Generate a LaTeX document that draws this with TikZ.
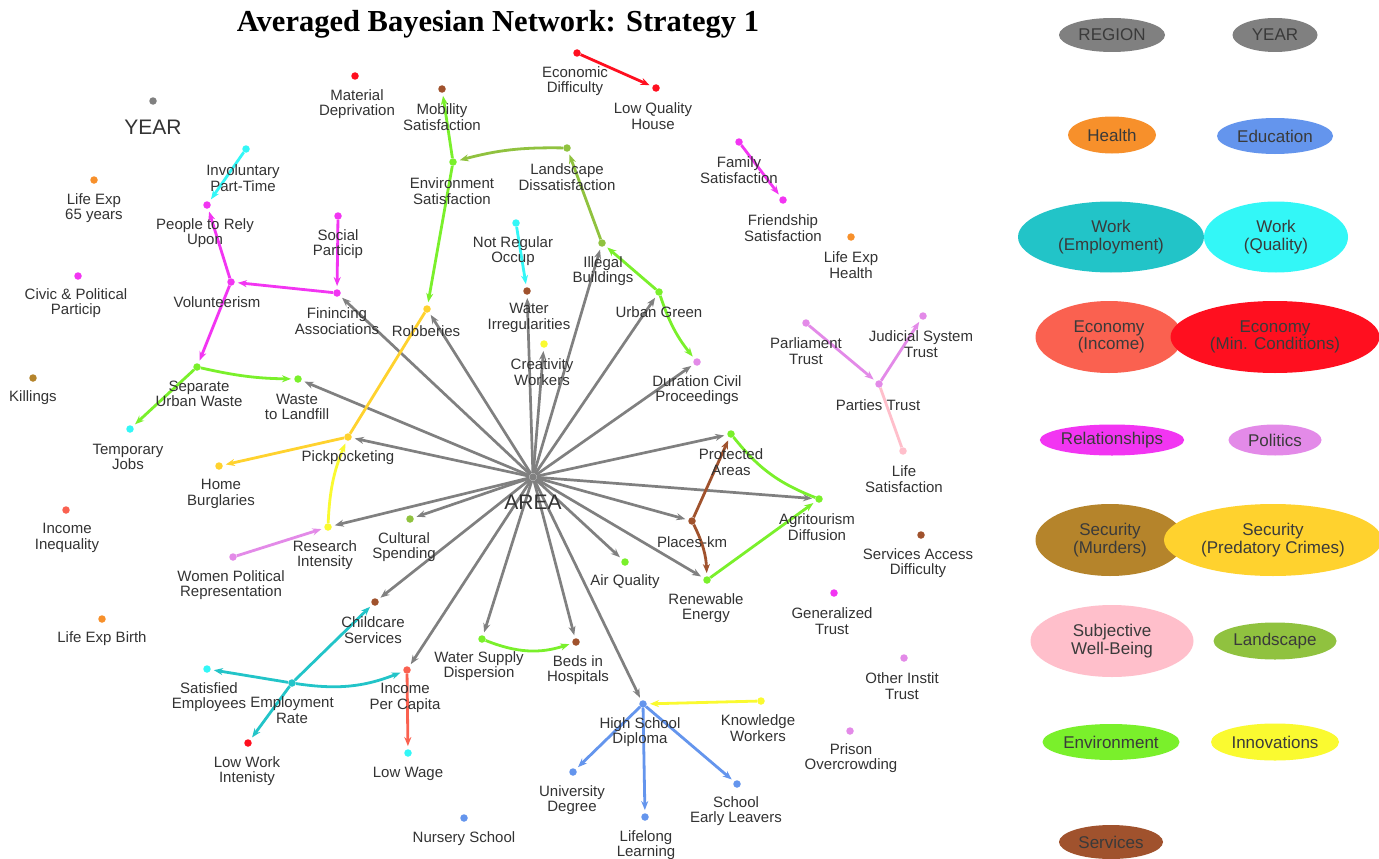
\documentclass[tikz,border=0pt]{standalone}
\usepackage{fontspec}
\setmainfont{Liberation Sans}
\newfontfamily\titlefont{Liberation Serif}
\usetikzlibrary{arrows.meta,shapes.geometric}
\definecolor{cgray}{HTML}{808080}
\definecolor{cmag}{HTML}{F235F2}
\definecolor{ccyan}{HTML}{33F7F7}
\definecolor{cteal}{HTML}{22C4C8}
\definecolor{cgreen}{HTML}{7AF02B}
\definecolor{colive}{HTML}{90C23F}
\definecolor{cred}{HTML}{FF0F1F}
\definecolor{ctom}{HTML}{FA6150}
\definecolor{cgold}{HTML}{FFD22E}
\definecolor{cyel}{HTML}{FAFA30}
\definecolor{cviol}{HTML}{E38AE8}
\definecolor{cpink}{HTML}{FFBFCB}
\definecolor{cblue}{HTML}{6495ED}
\definecolor{corange}{HTML}{F7902B}
\definecolor{cmurd}{HTML}{B5842B}
\definecolor{cserv}{HTML}{A0522D}
\definecolor{labc}{HTML}{333333}
\definecolor{legtext}{HTML}{3A3A3A}
\begin{document}
\begin{tikzpicture}[x=1pt,y=-1pt,
  dot/.style={circle,inner sep=0pt,minimum size=7.5pt,draw=none},
  lab/.style={align=center,font=\fontsize{15}{15.5}\selectfont,text=labc,inner sep=0pt},
  big/.style={font=\fontsize{21}{21}\selectfont},
  e/.style={line width=2.8pt,-{Stealth[length=9pt,width=7pt]},shorten >=3pt},
  ne/.style={line width=2.8pt},
  leg/.style={ellipse,inner sep=0pt,align=center,font=\fontsize{17}{17.5}\selectfont,text=legtext,draw=none}]
\useasboundingbox (0,0) rectangle (1379,859);
\fill[white] (0,0) rectangle (1379,859);

% title
\node[font=\titlefont\bfseries\fontsize{30.5}{30.5}\selectfont,text=black] (title) at (498,24) {Averaged Bayesian Network: Strategy 1};

% ---------- nodes (dots) ----------
\node[dot,fill=cgray] (YEAR) at (153,101) {};
\node[dot,fill=corange] (LE65) at (94,180) {};
\node[dot,fill=cmag] (Civic) at (78,276) {};
\node[dot,fill=cmurd] (Kill) at (33,378) {};
\node[dot,fill=ctom] (Ineq) at (66,510) {};
\node[dot,fill=corange] (LEB) at (102,619) {};
\node[dot,fill=ccyan] (Inv) at (246,149) {};
\node[dot,fill=cmag] (People) at (207,205) {};
\node[dot,fill=cmag] (Vol) at (231,282) {};
\node[dot,fill=cmag] (Social) at (338,216) {};
\node[dot,fill=cmag] (Fin) at (337,293) {};
\node[dot,fill=cgreen] (Sep) at (197,367) {};
\node[dot,fill=cgreen] (Waste) at (298,379) {};
\node[dot,fill=ccyan] (Temp) at (130,429) {};
\node[dot,fill=cgold] (Home) at (219,466) {};
\node[dot,fill=cgold] (Pick) at (348,437) {};
\node[dot,fill=cyel] (Research) at (328,527) {};
\node[dot,fill=cviol] (Women) at (233,557) {};
\node[dot,fill=colive] (Cult) at (410,519) {};
\node[dot,fill=cserv] (Child) at (375,602) {};
\node[dot,fill=ccyan] (Satis) at (207,669) {};
\node[dot,fill=cteal] (Emp) at (292,683) {};
\node[dot,fill=cred] (LowWork) at (248,743) {};
\node[dot,fill=ctom] (Income) at (407,670) {};
\node[dot,fill=ccyan] (LowWage) at (408,753) {};
\node[dot,fill=cgreen] (WSD) at (482,639) {};
\node[dot,fill=cserv] (Beds) at (576,642) {};
\node[dot,fill=cblue] (Nurs) at (464,818) {};
\node[dot,fill=cblue] (HSD) at (643,704) {};
\node[dot,fill=cblue] (Univ) at (573,772) {};
\node[dot,fill=cblue] (LLL) at (645,817) {};
\node[dot,fill=cblue] (SEL) at (737,784) {};
\node[dot,fill=cyel] (Know) at (761,701) {};
\node[dot,fill=cviol] (Prison) at (850,731) {};
\node[dot,fill=cviol] (Other) at (904,658) {};
\node[dot,fill=cmag] (Gen) at (834,593) {};
\node[dot,fill=cgreen] (Renew) at (707,580) {};
\node[dot,fill=cgreen] (Air) at (625,562) {};
\node[dot,fill=cserv] (Places) at (692,521) {};
\node[dot,fill=cgreen] (Agri) at (819,499) {};
\node[dot,fill=cserv] (ServAcc) at (921,535) {};
\node[dot,fill=cgreen] (Prot) at (731,434) {};
\node[dot,fill=cpink] (LifeSat) at (903,451) {};
\node[dot,fill=cviol] (Parties) at (879,384) {};
\node[dot,fill=cviol] (Parl) at (806,323) {};
\node[dot,fill=cviol] (Jud) at (923,316) {};
\node[dot,fill=cviol] (Dur) at (697,362) {};
\node[dot,fill=cgreen] (Urban) at (659,292) {};
\node[dot,fill=colive] (Illegal) at (602,243) {};
\node[dot,fill=cyel] (Creat) at (544,344) {};
\node[dot,fill=cserv] (WaterI) at (527,291) {};
\node[dot,fill=ccyan] (NotReg) at (516,223) {};
\node[dot,fill=cgold] (Rob) at (427,309) {};
\node[dot,fill=cgreen] (Env) at (453,162) {};
\node[dot,fill=colive] (Land) at (567,148) {};
\node[dot,fill=cserv] (Mob) at (442,89) {};
\node[dot,fill=cred] (Mat) at (355,76) {};
\node[dot,fill=cred] (EconD) at (577,53) {};
\node[dot,fill=cred] (LQH) at (656,88) {};
\node[dot,fill=cmag] (Fam) at (739,142) {};
\node[dot,fill=cmag] (Friend) at (783,200) {};
\node[dot,fill=corange] (LEH) at (851,237) {};
\node[dot,fill=cgray] (AREA) at (533,477) {};

% ---------- edges ----------
\foreach \t in {Fin,Rob,WaterI,Creat,Illegal,Urban,Dur,Prot,Agri,Places,Renew,Air,HSD,Beds,WSD,Income,Child,Cult,Research,Pick,Waste}
  \draw[e,cgray,line width=2.7pt] (AREA) -- (\t);

\draw[e,ccyan] (Inv) -- (People);
\draw[e,ccyan] (NotReg) -- (WaterI);
\draw[e,cmag] (Vol) -- (People);
\draw[e,cmag] (Fin) -- (Vol);
\draw[e,cmag] (Social) -- (Fin);
\draw[e,cmag] (Vol) -- (Sep);
\draw[e,cmag] (Fam) -- (Friend);
\draw[e,cgreen] (Sep) to[bend right=6] (Waste);
\draw[e,cgreen] (Sep) -- (Temp);
\draw[e,cgreen] (Env) -- (Mob);
\draw[e,cgreen] (Env) -- (Rob);
\draw[e,cgreen] (Urban) -- (Illegal);
\draw[e,cgreen] (Urban) to[bend right=10] (Dur);
\draw[e,cgreen] (WSD) to[bend right=20] (Beds);
\draw[e,cgreen] (Renew) -- (Agri);
\draw[ne,cgreen] (Prot) to[bend right=15] (Agri);
\draw[e,colive] (Land) to[bend right=8] (Env);
\draw[e,colive] (Illegal) -- (Land);
\draw[e,cred] (EconD) -- (LQH);
\draw[ne,cgold] (Rob) -- (Pick);
\draw[e,cgold] (Pick) -- (Home);
\draw[e,cyel] (Research) to[bend left=10] (Pick);
\draw[e,cyel] (Know) -- (HSD);
\draw[e,cviol] (Women) -- (Research);
\draw[e,cviol] (Parl) -- (Parties);
\draw[e,cviol] (Parties) -- (Jud);
\draw[ne,cpink] (LifeSat) -- (Parties);
\draw[e,cteal] (Emp) -- (Satis);
\draw[e,cteal] (Emp) -- (LowWork);
\draw[e,cteal] (Emp) -- (Child);
\draw[e,cteal] (Emp) to[bend right=15] (Income);
\draw[e,ctom] (Income) -- (LowWage);
\draw[e,cblue] (HSD) -- (Univ);
\draw[e,cblue] (HSD) -- (LLL);
\draw[e,cblue] (HSD) -- (SEL);
\draw[e,cserv] (Places) -- (Prot);
\draw[e,cserv] (Places) to[bend left=12] (Renew);

% ---------- labels ----------
\node[lab,big] (lYEAR) at (153,127) {YEAR};
\node[lab] (lLE65) at (94,208) {Life Exp\\65 years};
\node[lab] (lCivic) at (76,303) {Civic \& Political\\Particip};
\node[lab] (lKill) at (33,398) {Killings};
\node[lab] (lIneq) at (67,538) {Income\\Inequality};
\node[lab] (lLEB) at (102,639) {Life Exp Birth};
\node[lab] (lInv) at (243,178) {Involuntary\\Part-Time};
\node[lab] (lPeople) at (205,233) {People to Rely\\Upon};
\node[lab] (lVol) at (217,302) {Volunteerism};
\node[lab] (lSocial) at (338,244) {Social\\Particip};
\node[lab] (lFin) at (337,321) {Finincing\\Associations};
\node[lab] (lSep) at (199,394) {Separate\\Urban Waste};
\node[lab] (lWaste) at (297,407) {Waste\\to Landfill};
\node[lab] (lTemp) at (128,457) {Temporary\\Jobs};
\node[lab] (lHome) at (221,494) {Home\\Burglaries};
\node[lab] (lPick) at (348,458) {Pickpocketing};
\node[lab] (lResearch) at (325,555) {Research\\Intensity};
\node[lab] (lWomen) at (231,585) {Women Political\\Representation};
\node[lab] (lCult) at (404,547) {Cultural\\Spending};
\node[lab] (lChild) at (373,630) {Childcare\\Services};
\node[lab] (lSatis) at (209,697) {Satisfied\\Employees};
\node[lab] (lEmp) at (292,710) {Employment\\Rate};
\node[lab] (lLowWork) at (247,771) {Low Work\\Intenisty};
\node[lab] (lIncome) at (405,698) {Income\\Per Capita};
\node[lab] (lLowWage) at (408,774) {Low Wage};
\node[lab] (lWSD) at (479,666) {Water Supply\\Dispersion};
\node[lab] (lBeds) at (578,670) {Beds in\\Hospitals};
\node[lab] (lNurs) at (464,839) {Nursery School};
\node[lab] (lHSD) at (640,732) {High School\\Diploma};
\node[lab] (lUniv) at (572,800) {University\\Degree};
\node[lab] (lLLL) at (646,845) {Lifelong\\Learning};
\node[lab] (lSEL) at (736,811) {School\\Early Leavers};
\node[lab] (lKnow) at (758,728) {Knowledge\\Workers};
\node[lab] (lPrison) at (851,758) {Prison\\Overcrowding};
\node[lab] (lOther) at (902,686) {Other Instit\\Trust};
\node[lab] (lGen) at (832,621) {Generalized\\Trust};
\node[lab] (lRenew) at (706,608) {Renewable\\Energy};
\node[lab] (lAir) at (625,582) {Air Quality};
\node[lab] (lPlaces) at (692,542) {Places-km};
\node[lab] (lAgri) at (817,527) {Agritourism\\Diffusion};
\node[lab] (lServAcc) at (918,563) {Services Access\\Difficulty};
\node[lab] (lProt) at (731,462) {Protected\\Areas};
\node[lab] (lLifeSat) at (904,479) {Life\\Satisfaction};
\node[lab] (lParties) at (878,405) {Parties Trust};
\node[lab] (lParl) at (806,351) {Parliament\\Trust};
\node[lab] (lJud) at (921,344) {Judicial System\\Trust};
\node[lab] (lDur) at (697,390) {Duration Civil\\Proceedings};
\node[lab] (lUrban) at (659,312) {Urban Green};
\node[lab] (lIllegal) at (603,271) {Illegal\\Buildings};
\node[lab] (lCreat) at (542,372) {Creativity\\Workers};
\node[lab] (lWaterI) at (529,318) {Water\\Irregularities};
\node[lab] (lNotReg) at (513,251) {Not Regular\\Occup};
\node[lab] (lRob) at (426,331) {Robberies};
\node[lab] (lEnv) at (452,191) {Environment\\Satisfaction};
\node[lab] (lLand) at (567,177) {Landscape\\Dissatisfaction};
\node[lab] (lMob) at (442,117) {Mobility\\Satisfaction};
\node[lab] (lMat) at (357,104) {Material\\Deprivation};
\node[lab] (lEconD) at (575,81) {Economic\\Difficulty};
\node[lab] (lLQH) at (653,116) {Low Quality\\House};
\node[lab] (lFam) at (739,170) {Family\\Satisfaction};
\node[lab] (lFriend) at (783,228) {Friendship\\Satisfaction};
\node[lab] (lLEH) at (851,265) {Life Exp\\Health};
\node[lab,big] (lAREA) at (533,502) {AREA};

% ---------- legend ----------
\node[leg,fill=cgray,minimum width=106pt,minimum height=34pt] (gREGION) at (1112,35) {REGION};
\node[leg,fill=cgray,minimum width=85pt,minimum height=34pt] (gYEAR) at (1275,35) {YEAR};
\node[leg,fill=corange,minimum width=88pt,minimum height=37pt] (gHealth) at (1112,135) {Health};
\node[leg,fill=cblue,minimum width=116pt,minimum height=36pt] (gEdu) at (1275,136) {Education};
\node[leg,fill=cteal,minimum width=186pt,minimum height=71pt] (gWorkE) at (1111,237) {Work\\(Employment)};
\node[leg,fill=ccyan,minimum width=144pt,minimum height=71pt] (gWorkQ) at (1276,237) {Work\\(Quality)};
\node[leg,fill=ctom,minimum width=147pt,minimum height=72pt] (gEconI) at (1109,337) {Economy\\\ (Income)};
\node[leg,fill=cred,minimum width=209pt,minimum height=72pt] (gEconM) at (1275,337) {Economy\\(Min. Conditions)};
\node[leg,fill=cmag,minimum width=143pt,minimum height=31pt] (gRel) at (1112,440) {Relationships};
\node[leg,fill=cviol,minimum width=93pt,minimum height=31pt] (gPol) at (1275,440) {Politics};
\node[leg,fill=cmurd,minimum width=149pt,minimum height=72pt] (gSecM) at (1110,540) {Security\\(Murders)};
\node[leg,fill=cgold,minimum width=218pt,minimum height=72pt] (gSecP) at (1273,540) {Security\\(Predatory Crimes)};
\node[leg,fill=cpink,minimum width=163pt,minimum height=72pt] (gSWB) at (1112,641) {Subjective\\Well-Being};
\node[leg,fill=colive,minimum width=123pt,minimum height=37pt] (gLand) at (1275,641) {Landscape};
\node[leg,fill=cgreen,minimum width=137pt,minimum height=36pt] (gEnv) at (1111,742) {Environment};
\node[leg,fill=cyel,minimum width=128pt,minimum height=37pt] (gInno) at (1275,742) {Innovations};
\node[leg,fill=cserv,minimum width=104pt,minimum height=34pt] (gServ) at (1111,842) {Services};
\end{tikzpicture}
\end{document}
